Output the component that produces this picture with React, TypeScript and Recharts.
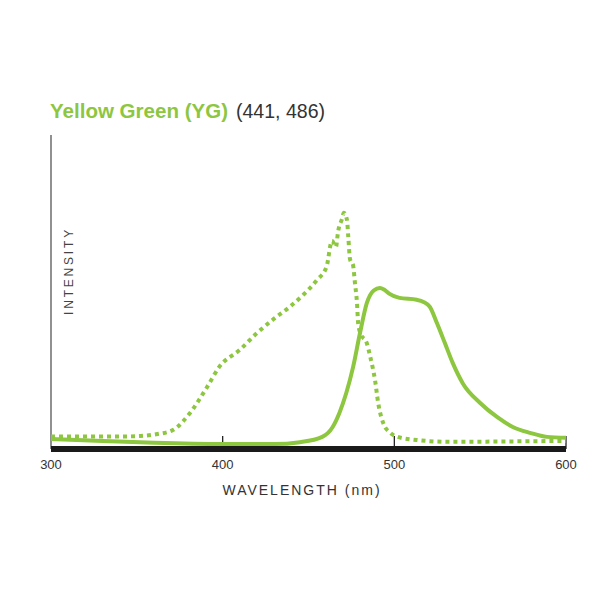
import React from "react";
import { LineChart, Line, XAxis, YAxis, ReferenceLine } from "recharts";

// excitation (dotted) and emission (solid) spectra
const exWavelength = [300, 320, 340, 352, 362, 371, 381, 391, 398, 410, 420, 429, 439, 447, 455, 460.5, 463.7, 466, 467.2, 469.5, 470.6, 472.4, 473.2, 474.2, 476, 477, 478.2, 479, 480.5, 484, 486, 488.8, 490.6, 493.5, 497.6, 502, 513, 532, 560, 580, 600];
const exIntensity = [3, 3, 3, 3.2, 3.8, 5.1, 10.6, 19, 25.4, 30.9, 36.3, 40.5, 44.7, 48.6, 53.4, 57.6, 66, 64, 68.8, 73, 75, 72.7, 67, 60, 58, 52.7, 46.3, 39, 36, 33, 28.6, 21, 13.8, 7.4, 4.2, 2.9, 1.9, 1.3, 1.4, 1.5, 1.6];

const emWavelength = [300, 330, 360, 400, 430, 445, 458, 464, 468, 472, 476, 480, 484, 488, 491.6, 494, 497, 503, 513, 517, 520.7, 524.8, 529.5, 534, 540, 550, 559.8, 569, 579, 589, 600];
const emIntensity = [2.2, 1.6, 1, 0.6, 0.6, 1.2, 2.9, 6, 10.6, 17, 25.4, 36.3, 46, 50, 50.8, 50.3, 49, 47.6, 47, 46.3, 44.7, 39.5, 33, 26.7, 20, 13.8, 9.3, 6.1, 4.2, 2.9, 2.6];

const xTicks = [300, 400, 500, 600];

const GREEN = "#8dc63f";

const excitation = exWavelength.map((nm, i) => ({ nm, value: exIntensity[i] }));
const emission = emWavelength.map((nm, i) => ({ nm, value: emIntensity[i] }));

export default function App() {
  return (
    <div style={{ position: "absolute", left: 0, top: 0, width: 600, height: 600, background: "#fff" }}>
      <LineChart width={600} height={600} margin={{ top: 135, right: 34, bottom: 121, left: 51 }}>
        <XAxis
          type="number"
          dataKey="nm"
          domain={[300, 600]}
          ticks={xTicks}
          height={30}
          axisLine={{ stroke: "#1a1a1a", strokeWidth: 6 }}
          tickLine={false}
          tickMargin={5}
          tick={{ fontSize: 13, fill: "#333", fontFamily: "'Liberation Sans', sans-serif" }}
        />
        <YAxis type="number" domain={[-1, 100]} width={0} hide />
        {/* vertical axis line */}
        <ReferenceLine
          segment={[{ x: 300, y: -1 }, { x: 300, y: 100 }]}
          stroke="#555"
          strokeWidth={1.3}
          ifOverflow="visible"
        />
        {xTicks.slice(1).map((t) => (
          <ReferenceLine
            key={t}
            segment={[{ x: t, y: -1 }, { x: t, y: 3.2 }]}
            stroke="#222"
            strokeWidth={1.3}
            ifOverflow="visible"
          />
        ))}
        <Line
          data={excitation}
          dataKey="value"
          type="monotone"
          stroke={GREEN}
          strokeWidth={4}
          strokeDasharray="4 4"
          dot={false}
          isAnimationActive={false}
        />
        <Line
          data={emission}
          dataKey="value"
          type="monotone"
          stroke={GREEN}
          strokeWidth={4}
          dot={false}
          isAnimationActive={false}
        />
      </LineChart>
      <svg width={600} height={600} style={{ position: "absolute", left: 0, top: 0, pointerEvents: "none" }}>
        <text
          x={50}
          y={118}
          fontSize={21}
          fontWeight="bold"
          fill={GREEN}
          textLength={178}
          lengthAdjust="spacingAndGlyphs"
          fontFamily="'Liberation Sans', sans-serif"
        >
          Yellow Green (YG)
        </text>
        <text
          x={236}
          y={118}
          fontSize={21}
          fill="#333"
          textLength={89}
          lengthAdjust="spacingAndGlyphs"
          fontFamily="'Liberation Sans', sans-serif"
        >
          (441, 486)
        </text>
        <text
          x={0}
          y={0}
          transform="translate(73 271) rotate(-90)"
          textAnchor="middle"
          fontSize={12}
          letterSpacing={2.8}
          fill="#444"
          fontFamily="'Liberation Sans', sans-serif"
        >
          INTENSITY
        </text>
        <text
          x={302}
          y={495}
          textAnchor="middle"
          fontSize={14}
          letterSpacing={2}
          fill="#333"
          fontFamily="'Liberation Sans', sans-serif"
        >
          WAVELENGTH (nm)
        </text>
      </svg>
    </div>
  );
}
